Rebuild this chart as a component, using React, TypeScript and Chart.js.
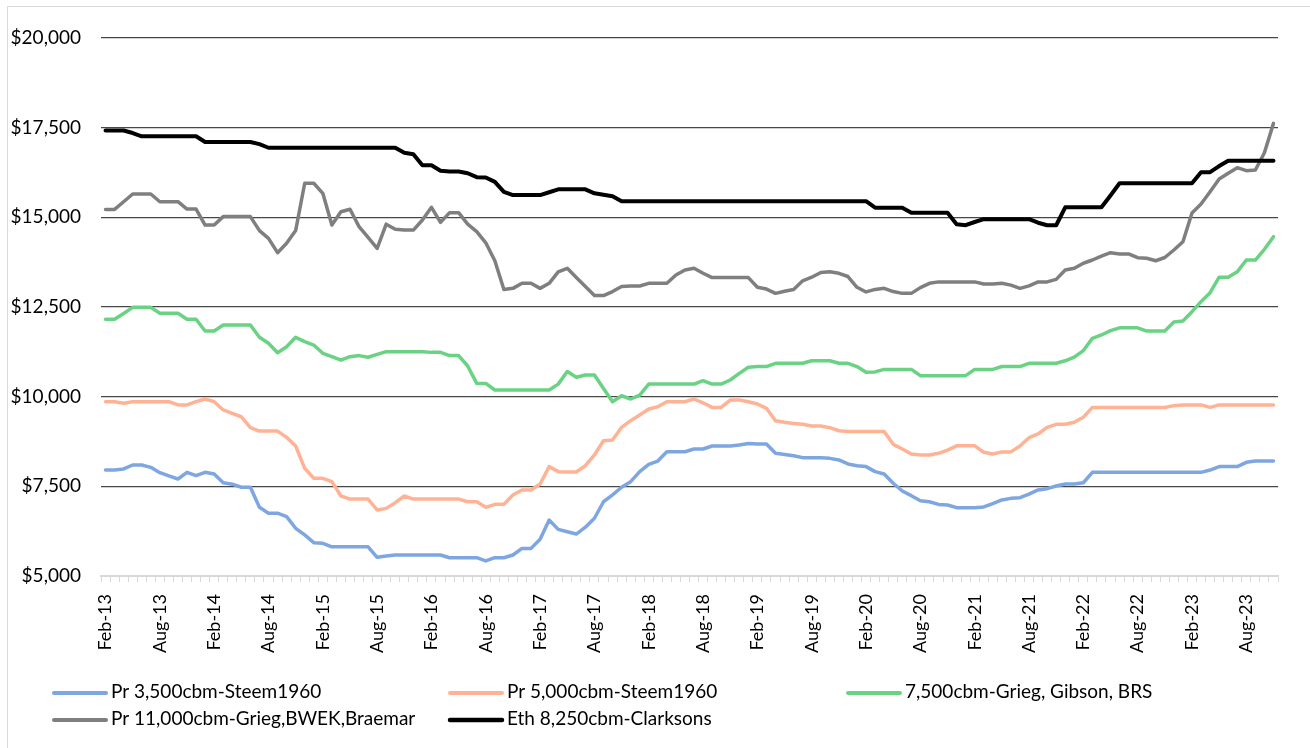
import React, { useEffect, useRef } from "react";
import { Chart, registerables } from "chart.js";

Chart.register(...registerables);

// Monthly series, Feb-13 .. Nov-23
const pr3500Steem: number[] = [
  7955, 7955, 7985, 8095, 8095, 8030, 7880, 7790, 7705, 7890,
  7800, 7890, 7845, 7600, 7560, 7475, 7475, 6915, 6750, 6750,
  6655, 6330, 6145, 5930, 5910, 5815, 5815, 5815, 5815, 5815,
  5520, 5560, 5585, 5585, 5585, 5585, 5585, 5585, 5510, 5510,
  5510, 5510, 5420, 5510, 5510, 5585, 5770, 5770, 6025, 6560,
  6300, 6235, 6170, 6360, 6610, 7070, 7260, 7475, 7630, 7910,
  8115, 8205, 8465, 8465, 8465, 8540, 8540, 8625, 8625, 8625,
  8650, 8695, 8680, 8680, 8420, 8390, 8355, 8300, 8300, 8300,
  8280, 8235, 8125, 8075, 8050, 7910, 7845, 7585, 7370, 7240,
  7100, 7070, 6995, 6980, 6905, 6905, 6905, 6925, 7020, 7120,
  7165, 7185, 7285, 7400, 7435, 7510, 7565, 7565, 7600, 7890,
  7890, 7890, 7890, 7890, 7890, 7890, 7890, 7890, 7890, 7890,
  7890, 7890, 7955, 8050, 8050, 8050, 8170, 8205, 8205, 8205,
];

const pr5000Steem: number[] = [
  9860, 9860, 9815, 9860, 9860, 9860, 9860, 9860, 9770, 9770,
  9860, 9935, 9860, 9630, 9535, 9440, 9135, 9040, 9040, 9040,
  8865, 8625, 8000, 7725, 7725, 7630, 7230, 7145, 7145, 7145,
  6840, 6885, 7045, 7230, 7145, 7145, 7145, 7145, 7145, 7145,
  7070, 7070, 6915, 6999, 6999, 7260, 7400, 7400, 7565, 8050,
  7910, 7900, 7900, 8075, 8375, 8770, 8790, 9145, 9330, 9490,
  9655, 9720, 9860, 9860, 9860, 9935, 9830, 9700, 9700, 9905,
  9905, 9860, 9795, 9675, 9330, 9285, 9255, 9230, 9180, 9180,
  9135, 9050, 9030, 9030, 9030, 9030, 9030, 8670, 8540, 8400,
  8375, 8375, 8420, 8510, 8630, 8630, 8630, 8450, 8400, 8460,
  8460, 8625, 8855, 8960, 9145, 9230, 9230, 9285, 9425, 9700,
  9700, 9700, 9700, 9700, 9700, 9700, 9700, 9700, 9750, 9770,
  9770, 9770, 9700, 9770, 9770, 9770, 9770, 9770, 9770, 9770,
];

const grieg7500: number[] = [
  12157, 12157, 12320, 12490, 12490, 12490, 12325, 12325, 12325, 12157,
  12157, 11830, 11830, 11997, 11997, 11997, 11997, 11655, 11490, 11225,
  11390, 11655, 11535, 11440, 11210, 11115, 11020, 11115, 11145, 11100,
  11180, 11255, 11255, 11255, 11255, 11255, 11235, 11235, 11145, 11145,
  10855, 10370, 10370, 10185, 10185, 10185, 10185, 10185, 10185, 10185,
  10350, 10700, 10540, 10605, 10605, 10230, 9860, 10025, 9935, 10045,
  10350, 10350, 10350, 10350, 10350, 10350, 10445, 10350, 10350, 10465,
  10650, 10820, 10840, 10840, 10930, 10930, 10930, 10930, 11000, 11000,
  11000, 10930, 10930, 10840, 10680, 10690, 10760, 10760, 10760, 10760,
  10585, 10585, 10585, 10585, 10585, 10585, 10760, 10760, 10760, 10840,
  10840, 10840, 10930, 10930, 10930, 10930, 11000, 11100, 11285, 11625,
  11720, 11840, 11920, 11920, 11920, 11830, 11830, 11830, 12080, 12110,
  12370, 12650, 12900, 13330, 13330, 13480, 13810, 13810, 14110, 14460,
];

const pr11000Grieg: number[] = [
  15220, 15220, 15435, 15650, 15650, 15650, 15435, 15435, 15435, 15230,
  15230, 14785, 14785, 15020, 15020, 15020, 15020, 14630, 14415, 14015,
  14275, 14630, 15950, 15950, 15670, 14785, 15155, 15225, 14740, 14440,
  14135, 14810, 14665, 14645, 14645, 14925, 15280, 14860, 15130, 15130,
  14810, 14600, 14290, 13790, 12990, 13020, 13160, 13160, 13020, 13160,
  13480, 13580, 13320, 13070, 12820, 12820, 12930, 13070, 13085, 13085,
  13160, 13160, 13160, 13390, 13530, 13580, 13440, 13320, 13320, 13320,
  13320, 13320, 13050, 13000, 12880, 12940, 12990, 13230, 13330, 13460,
  13480, 13440, 13350, 13050, 12920, 12990, 13020, 12930, 12880, 12880,
  13040, 13160, 13200, 13200, 13200, 13200, 13200, 13140, 13140, 13160,
  13110, 13020, 13090, 13200, 13200, 13270, 13530, 13580, 13720, 13810,
  13920, 14015, 13980, 13980, 13875, 13860, 13790, 13880, 14090, 14320,
  15120, 15370, 15715, 16070, 16230, 16385, 16300, 16320, 16800, 17620,
];

const eth8250Clarksons: number[] = [
  17420, 17420, 17420, 17350, 17260, 17260, 17260, 17260, 17260, 17260,
  17260, 17100, 17100, 17100, 17100, 17100, 17100, 17040, 16940, 16940,
  16940, 16940, 16940, 16940, 16940, 16940, 16940, 16940, 16940, 16940,
  16940, 16940, 16940, 16800, 16760, 16450, 16450, 16300, 16280, 16280,
  16230, 16120, 16110, 15990, 15710, 15620, 15620, 15620, 15620, 15700,
  15780, 15780, 15780, 15780, 15670, 15630, 15590, 15450, 15450, 15450,
  15450, 15450, 15450, 15450, 15450, 15450, 15450, 15450, 15450, 15450,
  15450, 15450, 15450, 15450, 15450, 15450, 15450, 15450, 15450, 15450,
  15450, 15450, 15450, 15450, 15450, 15270, 15270, 15270, 15270, 15130,
  15130, 15130, 15130, 15130, 14810, 14780, 14870, 14950, 14950, 14950,
  14950, 14950, 14950, 14850, 14780, 14780, 15280, 15280, 15280, 15280,
  15280, 15610, 15950, 15950, 15950, 15950, 15950, 15950, 15950, 15950,
  15950, 16260, 16260, 16430, 16580, 16580, 16580, 16580, 16580, 16580,
];

const seriesLabels = [
  "Pr 3,500cbm-Steem1960",
  "Pr 5,000cbm-Steem1960",
  "7,500cbm-Grieg, Gibson, BRS",
  "Pr 11,000cbm-Grieg,BWEK,Braemar",
  "Eth 8,250cbm-Clarksons",
];
const seriesValues = [pr3500Steem, pr5000Steem, grieg7500, pr11000Grieg, eth8250Clarksons];
const seriesColors = ["#7ea6e0", "#ffb394", "#69d283", "#7f7f7f", "#000000"];
const seriesWidths = [3.5, 3.5, 3.5, 3.5, 4];

const monthNames = ["Jan", "Feb", "Mar", "Apr", "May", "Jun", "Jul", "Aug", "Sep", "Oct", "Nov", "Dec"];
const firstMonth = 1; // Feb
const firstYear = 13;
const categories: string[] = pr3500Steem.map((_, i) => {
  const k = firstMonth + i;
  return `${monthNames[k % 12]}-${firstYear + Math.floor(k / 12)}`;
});
const labelEvery = 6;

const yMin = 5000;
const yMax = 20000;
const yStep = 2500;

const FONT = "Lato, 'Open Sans', sans-serif";
const LEGEND_TEXT_X = [111, 507, 905];
const LEGEND_ROW_Y = [692, 719];

const columnLegend = {
  id: "columnLegend",
  afterDraw(chart: any) {
    const ctx = chart.ctx as CanvasRenderingContext2D;
    ctx.save();
    chart.data.datasets.forEach((ds: any, i: number) => {
      const col = i % 3;
      const row = Math.floor(i / 3);
      const tx = LEGEND_TEXT_X[col];
      const ty = LEGEND_ROW_Y[row];
      ctx.strokeStyle = ds.borderColor;
      ctx.lineWidth = ds.borderWidth + 0.5;
      ctx.lineCap = "round";
      ctx.beginPath();
      ctx.moveTo(tx - 57, ty + 1);
      ctx.lineTo(tx - 5, ty + 1);
      ctx.stroke();
      ctx.fillStyle = "#000";
      ctx.font = `19px ${FONT}`;
      ctx.textBaseline = "middle";
      ctx.textAlign = "left";
      ctx.fillText(ds.label, tx, ty);
    });
    ctx.restore();
  },
};

export default function App() {
  const canvasRef = useRef<HTMLCanvasElement | null>(null);

  useEffect(() => {
    if (!canvasRef.current) return;
    const chart = new Chart(canvasRef.current, {
      type: "line",
      data: {
        labels: categories,
        datasets: seriesLabels.map((label, i) => ({
          label,
          data: seriesValues[i],
          borderColor: seriesColors[i],
          backgroundColor: seriesColors[i],
          borderWidth: seriesWidths[i],
          pointRadius: 0,
          pointHoverRadius: 0,
          tension: 0,
          fill: false,
          borderCapStyle: "round",
          borderJoinStyle: "round",
          order: seriesLabels.length - i,
        })),
      },
      options: {
        animation: false,
        responsive: false,
        devicePixelRatio: 1,
        layout: { padding: { left: 0, right: 32, top: 38, bottom: 0 } },
        plugins: {
          legend: { display: false },
          tooltip: { enabled: false },
          title: { display: false },
        },
        scales: {
          x: {
            type: "category",
            offset: true,
            afterFit: (s: any) => {
              s.height = 172;
            },
            grid: {
              display: true,
              offset: true,
              drawOnChartArea: false,
              drawTicks: true,
              tickLength: 6,
              color: "#d9d9d9",
              lineWidth: 1,
            },
            border: { display: true, color: "#d9d9d9", width: 2 },
            ticks: {
              autoSkip: false,
              minRotation: 90,
              maxRotation: 90,
              padding: 12,
              color: "#000",
              font: { family: FONT, size: 18 },
              callback: (_v: any, index: number) => (index % labelEvery === 0 ? categories[index] : ""),
            },
          },
          y: {
            min: yMin,
            max: yMax,
            afterFit: (s: any) => {
              s.width = 101;
            },
            grid: {
              drawTicks: false,
              color: (c: any) => (c.tick && c.tick.value === yMin ? "rgba(0,0,0,0)" : "#474747"),
              lineWidth: 1.2,
            },
            border: { display: false },
            ticks: {
              stepSize: yStep,
              padding: 20,
              color: "#000",
              font: { family: FONT, size: 19 },
              callback: (v: any) => "$" + Number(v).toLocaleString("en-US"),
            },
          },
        },
      },
      plugins: [columnLegend],
    } as any);
    return () => chart.destroy();
  }, []);

  return (
    <div style={{ position: "fixed", left: 0, top: 0, width: 1310, height: 748, background: "#fff", overflow: "hidden" }}>
      <div
        style={{
          position: "absolute",
          left: 7,
          top: 6,
          width: 1320,
          height: 760,
          borderLeft: "1px solid #d9d9d9",
          borderTop: "1px solid #d9d9d9",
        }}
      />
      <canvas ref={canvasRef} width={1310} height={748} style={{ position: "absolute", left: 0, top: 0, width: 1310, height: 748 }} />
    </div>
  );
}
